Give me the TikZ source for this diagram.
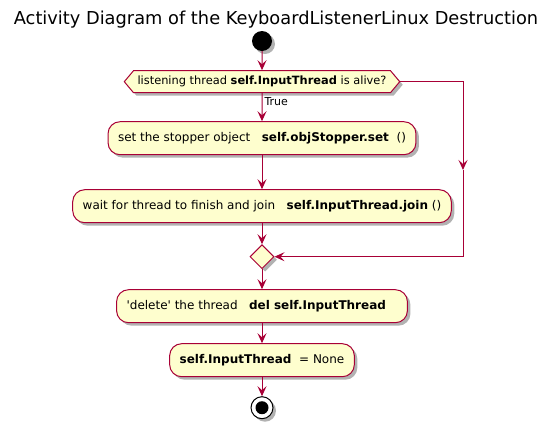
\documentclass[tikz,border=0pt]{standalone}
\usepackage{fontspec}
\setmainfont{DejaVu Sans}
\usetikzlibrary{arrows.meta,positioning,shapes.geometric,shapes.symbols,shadows}

\definecolor{umlred}{HTML}{A80036}
\definecolor{umlfill}{HTML}{FEFECE}

\tikzset{
  umlshadow/.style={drop shadow={shadow xshift=3pt, shadow yshift=-3pt, opacity=0.3, fill=black}},
  action/.style={draw=umlred, fill=umlfill, line width=1pt, rounded corners=12pt,
    minimum height=33pt, inner xsep=10pt, font=\fontsize{12}{14}\selectfont, umlshadow},
  decision/.style={signal, signal to=west and east, signal pointer angle=100,
    draw=umlred, fill=umlfill, line width=1pt, minimum height=22pt, inner xsep=4pt,
    font=\fontsize{11.4}{13}\selectfont, umlshadow},
  merge/.style={diamond, draw=umlred, fill=umlfill, line width=1pt, minimum size=24pt,
    inner sep=0pt, umlshadow},
  startnode/.style={circle, fill=black, minimum size=20pt, inner sep=0pt, umlshadow},
  stopnode/.style={circle, draw=black, fill=white, line width=1pt, minimum size=22pt,
    inner sep=0pt, umlshadow},
  flow/.style={-{Stealth[length=10pt, width=9pt, inset=4pt]}, draw=umlred, line width=1pt}
}

\begin{document}
\begin{tikzpicture}[x=1pt, y=-1pt]
  \useasboundingbox (0,0) rectangle (547,424);

  \node[font=\fontsize{17.8}{20}\selectfont] (title) at (276,20)
    {Activity Diagram of the KeyboardListenerLinux Destruction};

  \node[startnode] (start) at (262,41) {};
  \node[decision] (cond) [below=19pt of start]
    {listening thread \textbf{self.InputThread} is alive?};
  \node[action] (stopper) [below=28pt of cond]
    {set the stopper object\ \ \ \textbf{self.objStopper.set}\ \ ()};
  \node[action] (join) [below=34pt of stopper]
    {wait for thread to finish and join\ \ \ \textbf{self.InputThread.join} ()};
  \node[merge] (endif) [below=21pt of join] {};
  \node[action] (delete) [below=20pt of endif]
    {\textquotesingle delete\textquotesingle{} the thread\ \ \ \textbf{del self.InputThread}\ \ \ \ };
  \node[action] (reset) [below=20pt of delete]
    {\textbf{self.InputThread}\ \ = None};
  \node[stopnode] (stop) [below=19pt of reset] {};
  \fill (stop.center) circle (6.5pt);

  \coordinate (skip) at (463,170);

  \draw[flow] (start) -- (cond);
  \draw[flow] (cond) -- node[right, pos=0.3, inner sep=2pt, font=\fontsize{11}{13}\selectfont] {True} (stopper);
  \draw[flow] (stopper) -- (join);
  \draw[flow] (join) -- (endif);
  \draw[flow] (cond.east) -| (skip);
  \draw[flow] (skip) |- (endif.east);
  \draw[flow] (endif) -- (delete);
  \draw[flow] (delete) -- (reset);
  \draw[flow] (reset) -- (stop);
\end{tikzpicture}
\end{document}
